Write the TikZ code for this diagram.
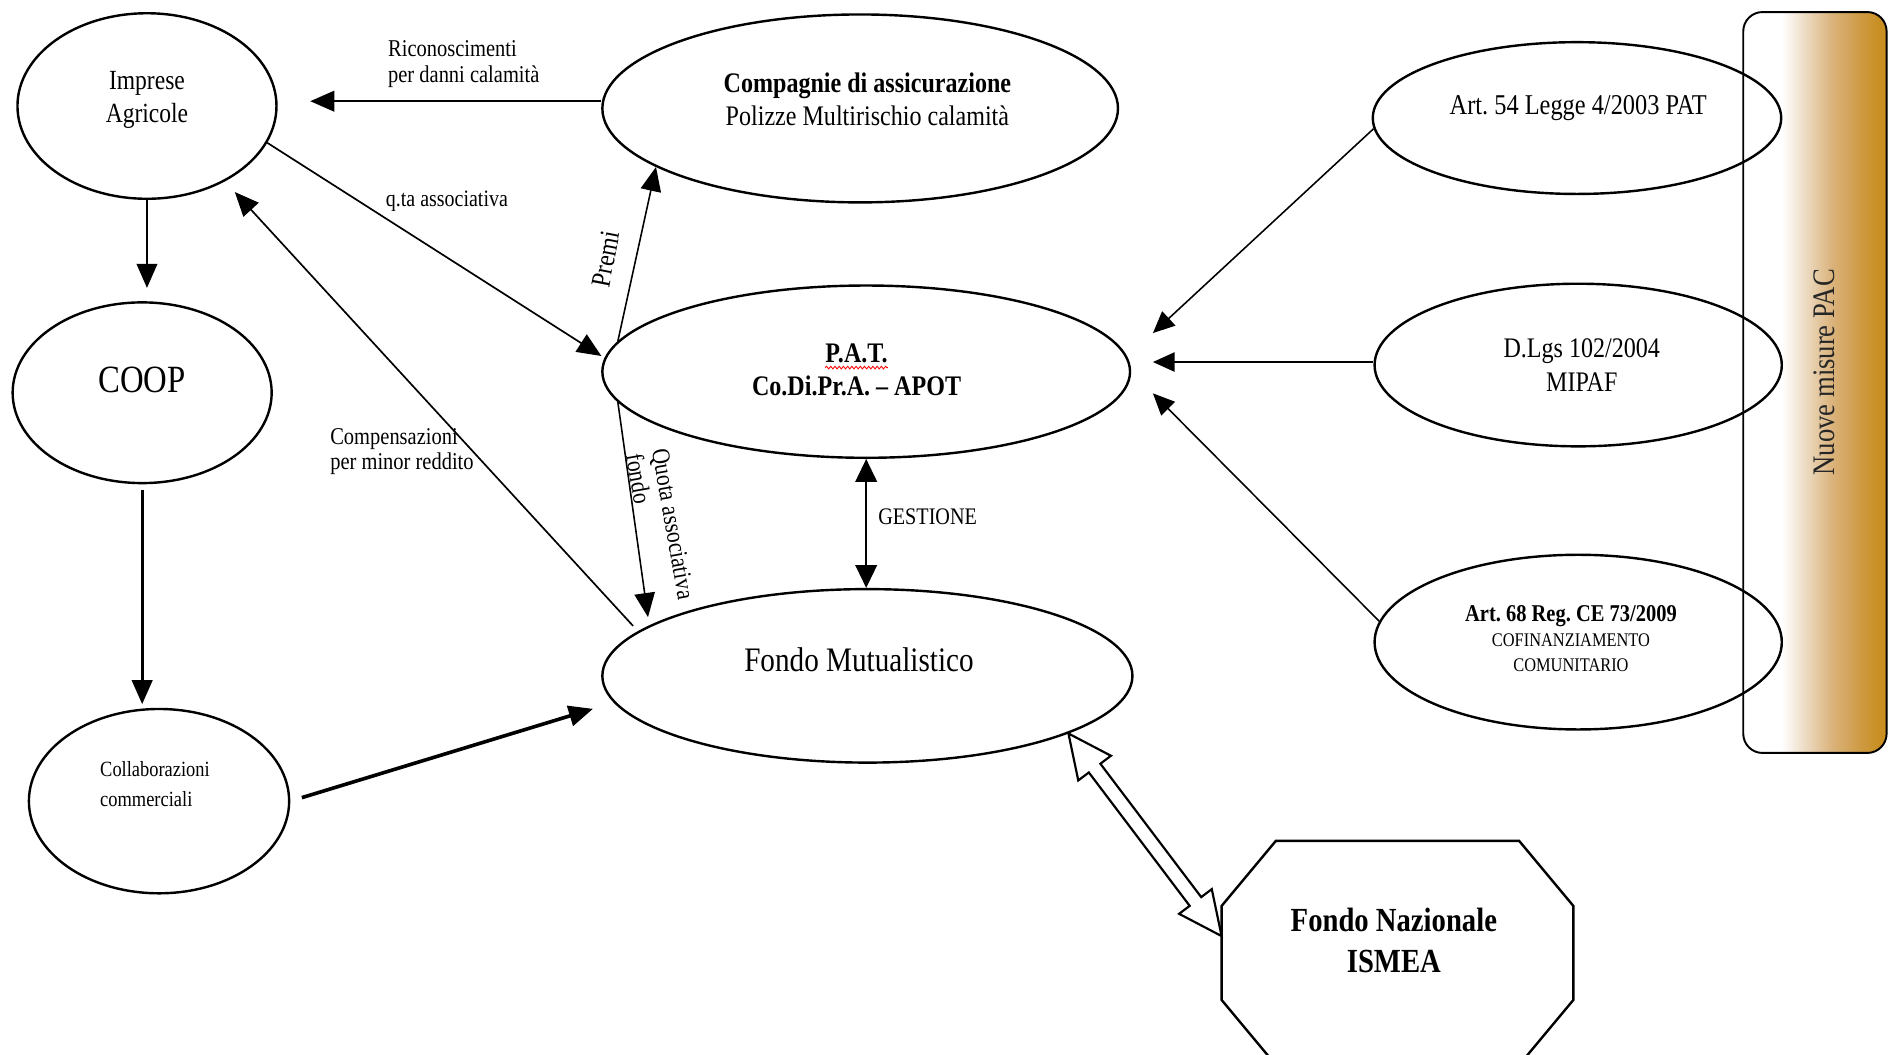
\documentclass[tikz,border=0pt]{standalone}
\usepackage{fontspec}
\setmainfont{Liberation Serif}[FakeStretch=0.85]
\usetikzlibrary{arrows.meta,shapes.geometric,calc,decorations.pathmorphing}
\definecolor{pacbeige}{HTML}{F1E4D2}
\definecolor{pactan}{HTML}{DAB27B}
\definecolor{pacochre}{HTML}{CF9C48}
\definecolor{pacgold}{HTML}{C98F22}
\definecolor{pactext}{HTML}{262626}
\pgfdeclarehorizontalshading{pacshade}{100bp}{color(0bp)=(white); color(25bp)=(white); color(38.5bp)=(white); color(44.5bp)=(pacbeige); color(56bp)=(pactan); color(65bp)=(pacochre); color(72bp)=(pacgold); color(100bp)=(pacgold)}
\newcommand\fsz[2]{\fontsize{#1}{#2}\selectfont}
\frenchspacing
\begin{document}
\begin{tikzpicture}[x=1pt,y=-1pt,
  ell/.style={draw, ellipse, line width=2pt, inner sep=0pt},
  lbl/.style={inner sep=0pt, align=center},
  tri/.style={-{Triangle[length=20pt,width=17pt]}},
  trismall/.style={-{Triangle[length=18pt,width=16pt]}},
  thinline/.style={line width=1.3pt}
]
\useasboundingbox (0,0) rectangle (1568,875);
\fill[white] (0,0) rectangle (1568,875);
\clip (0,0) rectangle (1568,875);

% side panel
\node[draw, rounded corners=16pt, line width=1.6pt, shading=pacshade,
      minimum width=119pt, minimum height=615pt, inner sep=0pt] (pac) at (1506.5,317.5) {};
\node[lbl, rotate=90, text=pactext, font=\fsz{26}{30}] (pacT) at (1514,309) {Nuove misure PAC};

% ellipses
\node[ell, minimum width=215pt, minimum height=154pt] (imp)   at (122,88)  {};
\node[ell, minimum width=215pt, minimum height=150pt] (coop)  at (118,326) {};
\node[ell, minimum width=216pt, minimum height=153pt] (coll)  at (132,665) {};
\node[ell, minimum width=428pt, minimum height=156pt] (comp)  at (714,90)  {};
\node[ell, minimum width=438pt, minimum height=143pt] (pat)   at (719,308.5) {};
\node[ell, minimum width=440pt, minimum height=144pt] (fondo) at (720,561) {};
\node[ell, minimum width=339pt, minimum height=126pt] (art54) at (1309,98)  {};
\node[ell, minimum width=338pt, minimum height=135pt] (dlgs)  at (1310,303) {};
\node[ell, minimum width=338pt, minimum height=145pt] (art68) at (1310,533) {};

% octagon
\node[minimum width=292pt, minimum height=186pt, inner sep=0pt, outer sep=0pt] (oct) at (1160,791) {};
\draw[line width=2pt, line join=miter]
  ([xshift=45pt]oct.north west) -- ([xshift=-45pt]oct.north east) -- ([yshift=-54pt]oct.north east)
  -- ([yshift=54pt]oct.south east) -- ([xshift=-45pt]oct.south east) -- ([xshift=45pt]oct.south west)
  -- ([yshift=54pt]oct.south west) -- ([yshift=-54pt]oct.north west) -- cycle;

% texts in shapes
\node[lbl, font=\fsz{23}{27}] (impT) at (122,83) {Imprese\\Agricole};
\node[lbl, font=\fsz{32}{36}] (coopT) at (118,315) {COOP};
\node[lbl, align=left, anchor=west, font=\fsz{18}{25}] (collT) at (83,651) {Collaborazioni\\commerciali};
\node[lbl, font=\fsz{23.5}{27}] (compT) at (720,82.5) {\textbf{Compagnie di assicurazione}\\Polizze Multirischio calamità};
\node[lbl, font=\bfseries\fsz{23.5}{27}] (patA) at (711,293.5) {P.A.T.};
\node[lbl, font=\bfseries\fsz{23.5}{27}] (patB) at (711,320) {Co.Di.Pr.A. – APOT};
\draw[red, line width=0.7pt, decorate, decoration={snake, amplitude=1.1pt, segment length=3.5pt}]
  ([yshift=-3.5pt]patA.south west) -- ([yshift=-3.5pt]patA.south east);
\node[lbl, font=\fsz{28.5}{32}] (fondoT) at (713,548) {Fondo Mutualistico};
\node[lbl, font=\fsz{23.8}{28}] (art54T) at (1310,90) {Art. 54 Legge 4/2003 PAT};
\node[lbl, font=\fsz{23.5}{28}] (dlgsT) at (1313,303) {D.Lgs 102/2004\\MIPAF};
\node[lbl, font=\fsz{16}{20.5}] (art68T) at (1304,530) {{\bfseries\fontsize{20}{20.5}\selectfont Art. 68 Reg. CE 73/2009}\\COFINANZIAMENTO\\COMUNITARIO};
\node[lbl, font=\bfseries\fsz{28}{34}] (octT) at (1157,781) {Fondo Nazionale\\ISMEA};

% connector labels
\node[lbl, align=left, anchor=west, font=\fsz{20}{22}] (ricT) at (322,53) {Riconoscimenti\\per danni calamità};
\node[lbl, font=\fsz{19.5}{22}] (qtaT) at (371,167) {q.ta associativa};
\node[lbl, align=left, anchor=west, font=\fsz{20}{21}] (compensT) at (274,375) {Compensazioni\\per minor reddito};
\node[lbl, rotate=79, font=\fsz{23}{26}] (premiT) at (503,215) {Premi};
\node[lbl, align=left, rotate=-80, font=\fsz{21}{22}] (quotaT) at (548,437) {Quota associativa\\fondo};
\node[lbl, font=\fsz{19.7}{22}] (gestT) at (770,429) {GESTIONE};

% connectors
\coordinate (ricS) at ([yshift=6pt]comp.west);
\draw[tri, line width=2pt, shorten >=27pt] (ricS) -- (ricS -| imp.east);
\draw[tri, line width=2pt, shorten >=11pt] (imp.south) -- (imp.south |- coop.north);
\draw[tri, line width=2.4pt, shorten <=5pt, shorten >=3pt] (coop.south) -- (coop.south |- coll.north);
\draw[tri, line width=3pt, shorten <=10pt, shorten >=18pt] (coll.east) -- (fondo.186);
\draw[tri, line width=1.4pt, shorten >=3pt] (imp.-17) -- (pat.177);
\draw[tri, line width=1.4pt, shorten <=6pt, shorten >=12pt] (fondo.169) -- (imp.-44);
\draw[tri, thinline] (pat.173) -- (comp.196);
\draw[tri, thinline, shorten >=7pt] (pat.187) -- (fondo.167);
\draw[{Triangle[length=19pt,width=18pt]}-{Triangle[length=19pt,width=18pt]}, line width=1.5pt]
  (pat.south) -- (pat.south |- fondo.north);

\coordinate (t1) at ([shift={(18pt,32pt)}]pat.east);
\coordinate (t2) at ([shift={(18pt,8pt)}]pat.east);
\coordinate (t3) at ([shift={(18pt,-18pt)}]pat.east);
\draw[trismall, thinline] (art54.183) -- (t1);
\draw[trismall, thinline] (dlgs.west |- t2) -- (t2);
\draw[trismall, thinline] (art68.174) -- (t3);

% hollow double arrow
\coordinate (hA) at (fondo.-16);
\coordinate (hB) at ([yshift=14pt]oct.west);
\coordinate (hA1) at ($(hA)!36pt!(hB)$);
\coordinate (hB1) at ($(hB)!36pt!(hA)$);
\draw[line width=1.8pt, fill=white, line join=miter]
  (hA) -- ($(hA1)!17pt!90:(hB)$) -- ($(hA1)!6pt!90:(hB)$) -- ($(hB1)!6pt!-90:(hA)$)
  -- ($(hB1)!17pt!-90:(hA)$) -- (hB) -- ($(hB1)!17pt!90:(hA)$) -- ($(hB1)!6pt!90:(hA)$)
  -- ($(hA1)!6pt!-90:(hB)$) -- ($(hA1)!17pt!-90:(hB)$) -- cycle;
\end{tikzpicture}
\end{document}
